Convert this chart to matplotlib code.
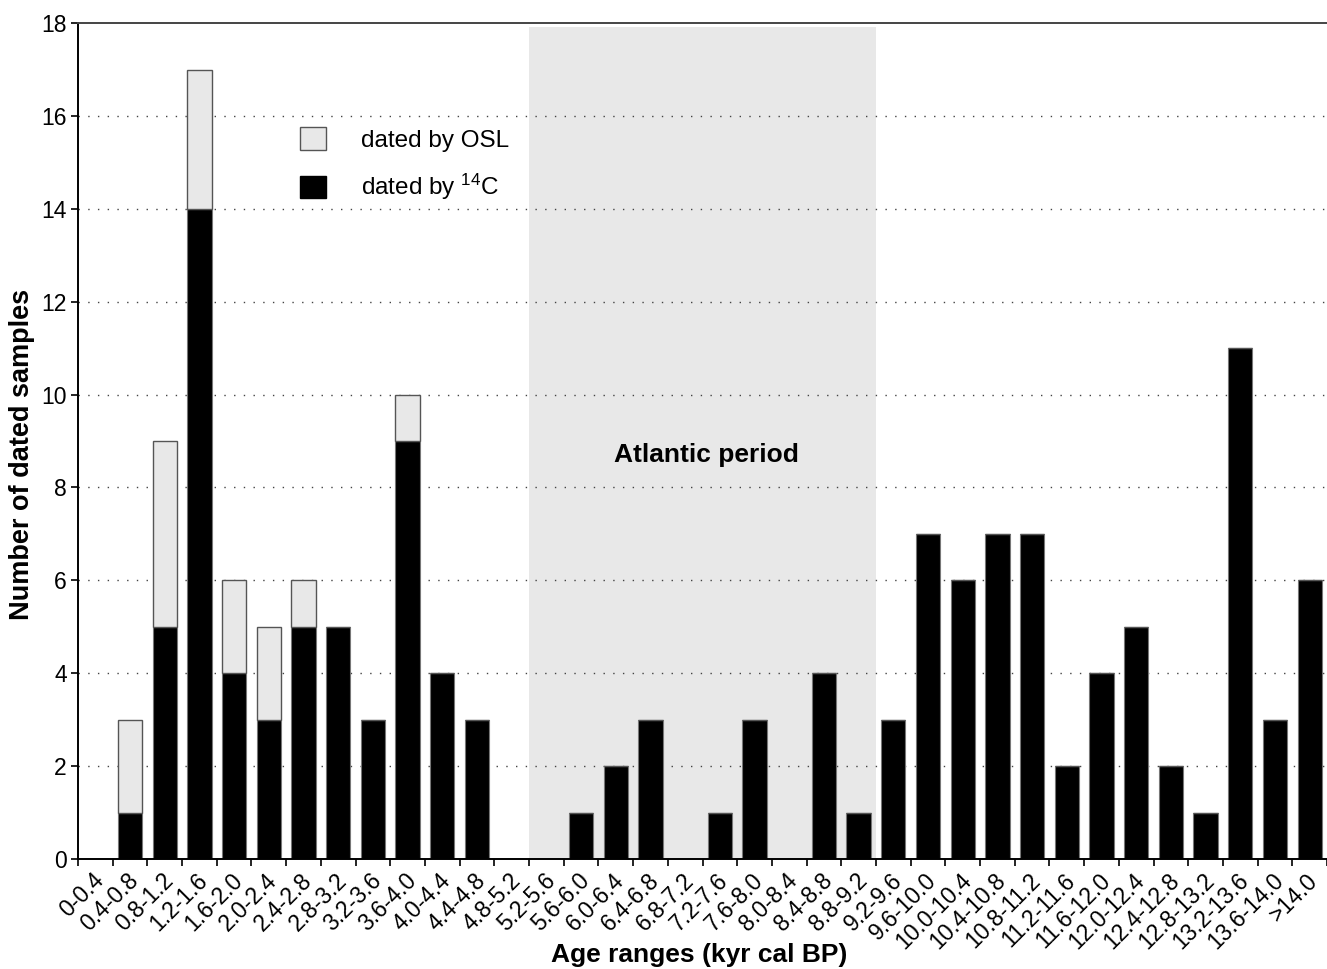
import numpy as np
import matplotlib
matplotlib.use("Agg")
import matplotlib.pyplot as plt
from matplotlib.patches import Patch
import matplotlib.transforms as mtransforms

plt.rcParams['font.family'] = ['Liberation Sans', 'DejaVu Sans']
plt.rcParams['mathtext.fontset'] = 'custom'
plt.rcParams['mathtext.rm'] = 'Liberation Sans'

# --- datos: intervalos de edad y numero de muestras datadas ---
rangos = ["0-0.4", "0.4-0.8", "0.8-1.2", "1.2-1.6", "1.6-2.0", "2.0-2.4",
          "2.4-2.8", "2.8-3.2", "3.2-3.6", "3.6-4.0", "4.0-4.4", "4.4-4.8",
          "4.8-5.2", "5.2-5.6", "5.6-6.0", "6.0-6.4", "6.4-6.8", "6.8-7.2",
          "7.2-7.6", "7.6-8.0", "8.0-8.4", "8.4-8.8", "8.8-9.2", "9.2-9.6",
          "9.6-10.0", "10.0-10.4", "10.4-10.8", "10.8-11.2", "11.2-11.6",
          "11.6-12.0", "12.0-12.4", "12.4-12.8", "12.8-13.2", "13.2-13.6",
          "13.6-14.0", ">14.0"]
muestras_c14 = [0, 1, 5, 14, 4, 3, 5, 5, 3, 9, 4, 3,
                0, 0, 1, 2, 3, 0, 1, 3, 0, 4, 1, 3,
                7, 6, 7, 7, 2, 4, 5, 2, 1, 11, 3, 6]
muestras_osl = [0, 2, 4, 3, 2, 2, 1, 0, 0, 1, 0, 0,
                0, 0, 0, 0, 0, 0, 0, 0, 0, 0, 0, 0,
                0, 0, 0, 0, 0, 0, 0, 0, 0, 0, 0, 0]
# periodo Atlantico: de 5.2 a 9.2 kyr (indices de categoria)
atlantico_ini = rangos.index("5.2-5.6")
atlantico_fin = rangos.index("8.8-9.2")

x = np.arange(len(rangos))

fig = plt.figure(figsize=(13.27, 9.69), dpi=100)
ax = fig.add_axes([0.0588, 0.1135, 0.9412, 0.8627])

# franja sombreada del periodo Atlantico
ax.axvspan(atlantico_ini - 0.5, atlantico_fin + 0.5, ymin=0, ymax=0.995,
           color='#e8e8e8', lw=0, zorder=0)
ax.text((atlantico_ini + atlantico_fin) / 2 + 0.1, 8.7, "Atlantic period",
        ha='center', va='center', fontsize=19, fontweight='bold')

# lineas de referencia punteadas
for y in range(2, 18, 2):
    ax.axhline(y, color='#444444', ls=(0, (1, 6)), lw=1.0, zorder=1)

ax.bar(x, muestras_c14, width=0.7, color='black', edgecolor='#777777',
       linewidth=0.8, zorder=2)
ax.bar(x, muestras_osl, width=0.7, bottom=muestras_c14, color='#e8e8e8',
       edgecolor='#555555', linewidth=1.0, zorder=2)

ax.set_xlim(-0.5, len(rangos) - 0.5)
ax.set_ylim(0, 18)
ax.set_yticks(range(0, 19, 2))
ax.tick_params(axis='y', labelsize=16.5, length=5, width=1.2, direction='out', pad=3)

# marcas en los limites de cada categoria, etiquetas en el centro
ax.set_xticks(np.arange(len(rangos) + 1) - 0.5)
ax.set_xticklabels([])
ax.tick_params(axis='x', length=5, width=1.2, direction='out')
desplaza = mtransforms.offset_copy(ax.get_xaxis_transform(), fig=fig, x=5, y=-18, units='dots')
for xi, etiqueta in zip(x, rangos):
    ax.text(xi, 0, etiqueta, transform=desplaza, rotation=45, ha='right',
            va='center', rotation_mode='anchor', fontsize=16.5)

ax.spines['right'].set_visible(False)
ax.spines['top'].set_color('#444444')
ax.spines['top'].set_linewidth(1.4)
ax.spines['left'].set_linewidth(1.4)
ax.spines['bottom'].set_linewidth(1.4)

fig.text(0.0166, 0.531, "Number of dated samples", rotation=90, ha='center',
         va='center', fontsize=19.5, fontweight='bold')
fig.text(0.527, 0.014, "Age ranges (kyr cal BP)", ha='center', va='center',
         fontsize=19, fontweight='bold')

manejadores = [Patch(facecolor='#e8e8e8', edgecolor='#555555', lw=1.0),
               Patch(facecolor='black', edgecolor='black')]
ax.legend(manejadores, ["dated by OSL", r"dated by $\mathregular{^{14}}$C"],
          loc='upper left', bbox_to_anchor=((300 - 78) / 1249, (859 - 127) / 836),
          frameon=False, fontsize=17.5, handlelength=1.05, handleheight=1.05,
          handletextpad=1.45, labelspacing=0.85, borderaxespad=0, borderpad=0)

plt.savefig("out.png", dpi=100)
